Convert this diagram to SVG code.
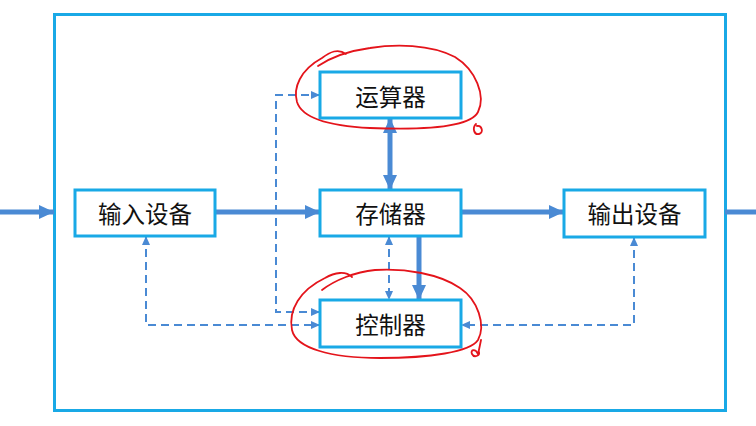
<svg xmlns="http://www.w3.org/2000/svg" width="756" height="426" viewBox="0 0 756 426">
<defs>
<style>
.box{fill:#fff;stroke:#19a9e6;stroke-width:3}
.outer{fill:none;stroke:#19a9e6;stroke-width:3}
.lbl{font-family:"Noto Sans CJK SC","Noto Sans",sans-serif;font-size:23.5px;fill:#111;text-anchor:middle;dominant-baseline:central}
.thick{fill:none;stroke:#4a8ad4;stroke-width:5}
.dash{fill:none;stroke:#4a8ad4;stroke-width:2;stroke-dasharray:8,5}
.red{fill:none;stroke:#e4141b;stroke-width:1.8;stroke-linecap:round;stroke-linejoin:round}
</style>
<marker id="big" markerUnits="userSpaceOnUse" markerWidth="16" markerHeight="16" refX="15" refY="8" orient="auto-start-reverse" viewBox="0 0 16 16">
<path d="M0,1 L15,8 L0,15 z" fill="#4a8ad4"/>
</marker>
<marker id="small" markerUnits="userSpaceOnUse" markerWidth="10" markerHeight="10" refX="9" refY="5" orient="auto-start-reverse" viewBox="0 0 10 10">
<path d="M0,1 L9,5 L0,9 z" fill="#4a8ad4"/>
</marker>
</defs>
<rect width="756" height="426" fill="#fff"/>
<rect class="outer" x="54.5" y="14.5" width="671" height="396"/>
<g id="connectors">
<path class="thick" d="M0,212 L54,212" marker-end="url(#big)"/>
<path class="thick" d="M725,212 L756,212"/>
<path class="thick" d="M215,212 L320,212" marker-end="url(#big)"/>
<path class="thick" d="M461,212 L564,212" marker-end="url(#big)"/>
<path class="thick" d="M390,118 L390,190" marker-start="url(#big)" marker-end="url(#big)"/>
<path class="thick" d="M419,236 L419,300" marker-end="url(#big)"/>
<path class="dash" d="M389,236 L389,300" marker-start="url(#small)" marker-end="url(#small)"/>
<path class="dash" d="M320,312 L276,312 L276,95 L320,95" marker-start="url(#small)" marker-end="url(#small)"/>
<path class="dash" d="M146,236 L146,325 L320,325" marker-start="url(#small)" marker-end="url(#small)"/>
<path class="dash" d="M634,237 L634,325 L461,325" marker-start="url(#small)" marker-end="url(#small)"/>
</g>
<g id="alu">
<rect class="box" x="320" y="72" width="141" height="46"/>
<text class="lbl" x="390.5" y="96">运算器</text>
</g>
<g id="input">
<rect class="box" x="75" y="190" width="140" height="46"/>
<text class="lbl" x="145" y="213">输入设备</text>
</g>
<g id="memory">
<rect class="box" x="320" y="190" width="141" height="46"/>
<text class="lbl" x="390.5" y="213">存储器</text>
</g>
<g id="output">
<rect class="box" x="564" y="190" width="141" height="47"/>
<text class="lbl" x="634.5" y="213">输出设备</text>
</g>
<g id="control">
<rect class="box" x="320" y="300" width="141" height="47"/>
<text class="lbl" x="390.5" y="324">控制器</text>
</g>
<g id="annotations">
<path class="red" d="M346,54 C338,48 330,52 322,58 C300,70 293,88 297,102 C302,118 330,126 370,128 C420,130 470,128 478,112 C486,96 476,70 455,57 C430,44 395,44 370,48 C348,51 330,58 318,66"/>
<path class="red" d="M476,124 C472,128 474,135 479,134 C484,133 482,125 477,126" stroke-width="2.5"/>
<path class="red" d="M352,277 C346,271 335,272 325,278 C300,290 288,310 292,330 C296,348 330,358 380,358 C430,358 470,352 478,340 C486,325 478,300 460,288 C440,274 405,268 375,270 C355,272 335,280 322,290"/>
<path class="red" d="M481,340 C480,345 479,350 478,354 C475,348 470,350 472,354 C474,358 480,356 479,352"/>
</g>
</svg>
